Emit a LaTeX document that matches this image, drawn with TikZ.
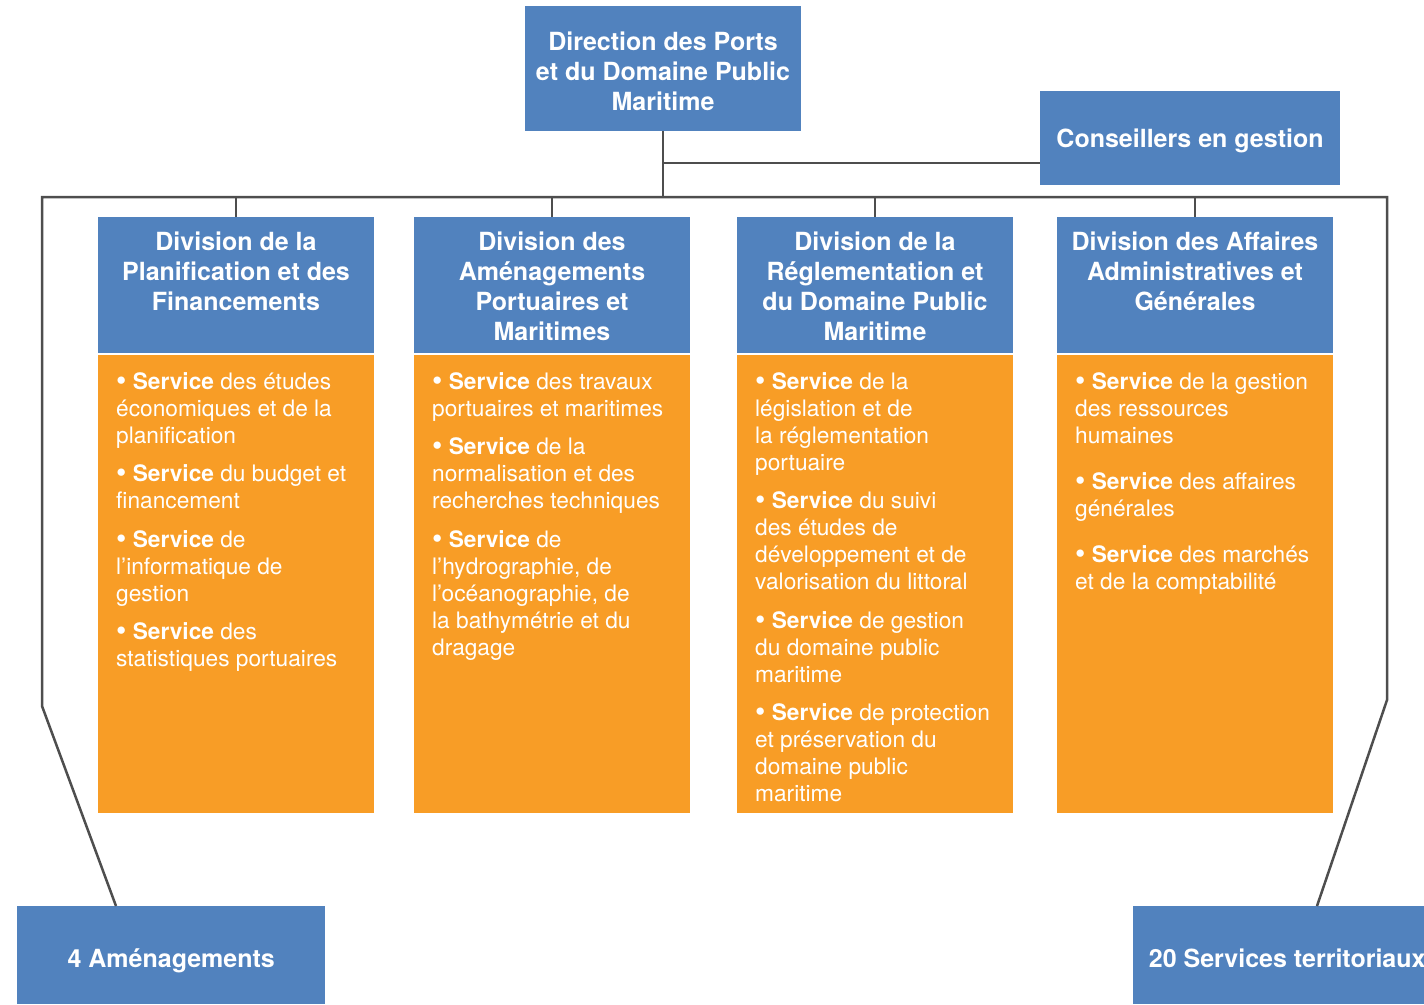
\documentclass[tikz,border=0pt]{standalone}
\usepackage{fontspec}
\setmainfont{TeX Gyre Heros}
\usetikzlibrary{positioning,calc}
\definecolor{dirblue}{RGB}{81,130,190}
\definecolor{servorange}{RGB}{248,157,38}
\definecolor{linegray}{RGB}{78,78,78}
\newcommand{\headtext}[1]{\parbox[c][136pt][t]{262pt}{\centering\rule{0pt}{33pt}#1}}
\newcommand{\bodytext}[1]{\parbox[c][458pt][t]{240pt}{\raggedright\rule{0pt}{34pt}#1}}
\newcommand{\srv}{\scalebox{1.3}{\textbf{•}}\ \textbf{Service}}
\tikzset{
  bluebox/.style={fill=dirblue, text=white, font=\fontsize{25}{30}\selectfont\bfseries, align=center, inner sep=0pt},
  divhead/.style={fill=dirblue, text=white, font=\fontsize{25}{30}\selectfont\bfseries, inner xsep=7pt, inner ysep=0pt, anchor=north},
  servbody/.style={fill=servorange, text=white, font=\fontsize{22.7}{27}\selectfont, inner xsep=18pt, inner ysep=0pt, anchor=north west},
  orgline/.style={draw=linegray, line width=2.5pt},
  tickline/.style={draw=linegray, line width=1.3pt}
}
\begin{document}
\begin{tikzpicture}[x=1pt,y=-1pt]
\clip (0,0) rectangle (1424,1004);
% direction et conseillers
\node[divhead, inner xsep=7pt] (dpdpm) at (663,6) {\parbox[c][125pt][t]{262pt}{\centering\rule{0pt}{44pt}Direction des Ports\\ et du Domaine Public\\ Maritime}};
\node[bluebox, minimum width=300pt, minimum height=94pt, text height=18pt, text depth=0pt] (cons) at (1190,138) {Conseillers en gestion};
% divisions
\node[divhead] (div1) at (236,217) {\headtext{Division de la\\ Planification et des\\ Financements}};
\node[divhead] (div2) at (552,217) {\headtext{Division des\\ Aménagements\\ Portuaires et\\ Maritimes}};
\node[divhead] (div3) at (875,217) {\headtext{Division de la\\ Réglementation et\\ du Domaine Public\\ Maritime}};
\node[divhead] (div4) at (1195,217) {\headtext{Division des Affaires\\ Administratives et\\ Générales}};
% services
\node[servbody] (srv1) at (98,355) {\bodytext{\srv{} des études\\ économiques et de la\\ planification\\[11.5pt]
  \srv{} du budget et\\ financement\\[11.5pt]
  \srv{} de\\ l’informatique de\\ gestion\\[11.5pt]
  \srv{} des\\ statistiques portuaires}};
\node[servbody] (srv2) at (414,355) {\bodytext{\srv{} des travaux\\ portuaires et maritimes\\[11.5pt]
  \srv{} de la\\ normalisation et des\\ recherches techniques\\[11.5pt]
  \srv{} de\\ l’hydrographie, de\\ l’océanographie, de\\ la bathymétrie et du\\ dragage}};
\node[servbody] (srv3) at (737,355) {\bodytext{\srv{} de la\\ législation et de\\ la réglementation\\ portuaire\\[11.5pt]
  \srv{} du suivi\\ des études de\\ développement et de\\ valorisation du littoral\\[11.5pt]
  \srv{} de gestion\\ du domaine public\\ maritime\\[11.5pt]
  \srv{} de protection\\ et préservation du\\ domaine public\\ maritime}};
\node[servbody] (srv4) at (1057,355) {\bodytext{\srv{} de la gestion\\ des ressources\\ humaines\\[19pt]
  \srv{} des affaires\\ générales\\[19pt]
  \srv{} des marchés\\ et de la comptabilité}};
% en bas
\node[bluebox, minimum width=308pt, minimum height=98pt, text height=24pt, text depth=0pt, anchor=north west] (amen) at (17,906) {4 Aménagements};
\node[bluebox, minimum width=308pt, minimum height=98pt, text height=24pt, text depth=0pt, anchor=north west] (terr) at (1133,906) {20 Services territoriaux};
% liaisons
\coordinate (busL) at (42,197);
\coordinate (busR) at (1387,197);
\coordinate (kneeL) at (42,706);
\coordinate (kneeR) at (1387,700);
\coordinate (branch) at ([yshift=-25pt]cons.west);
\draw[orgline] (dpdpm.south) -- (dpdpm.south |- busL);
\draw[orgline] (dpdpm.south |- branch) -- (branch);
\draw[orgline] ([xshift=99pt]amen.north west) -- (kneeL) -- (busL) -- (busR) -- (kneeR) -- ([xshift=184pt]terr.north west);
\foreach \d in {div1,div2,div3,div4}
  \draw[tickline] (\d.north) -- (\d.north |- busL);
\end{tikzpicture}
\end{document}
